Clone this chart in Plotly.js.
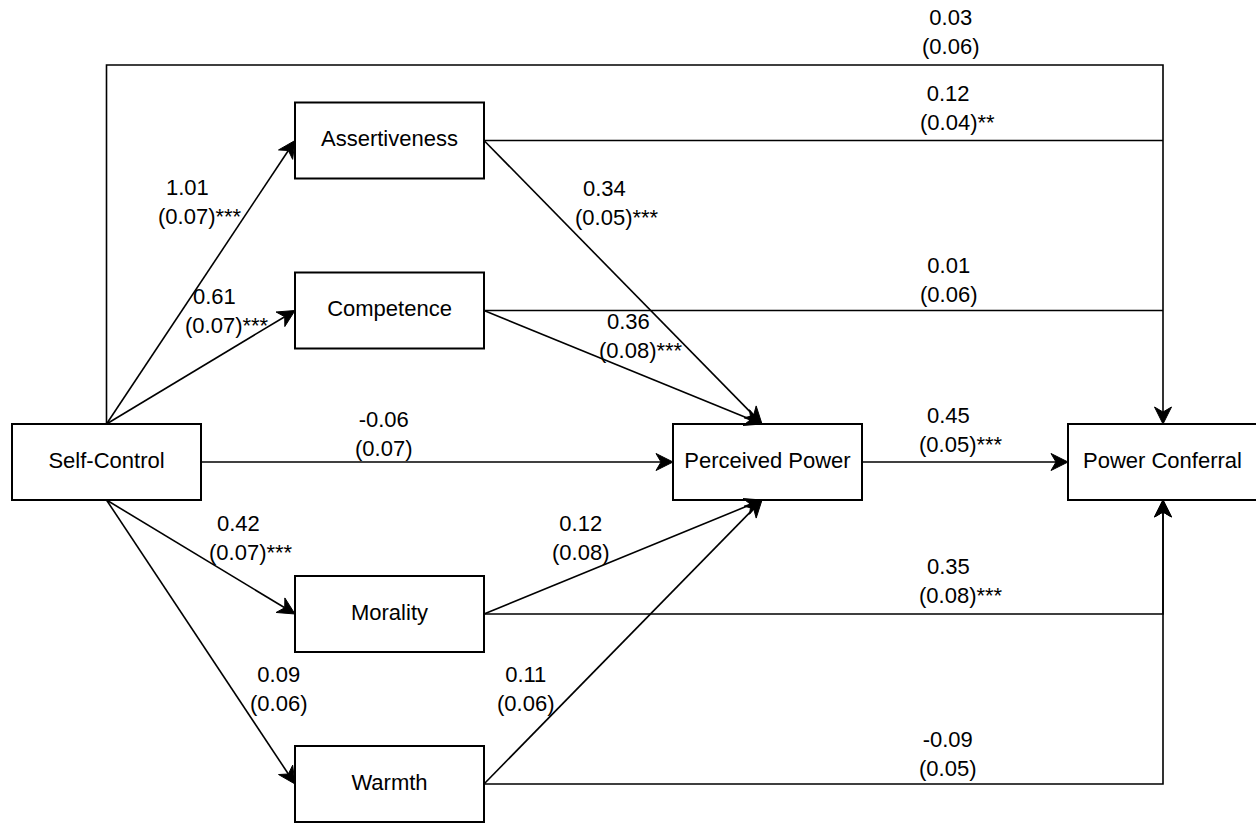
<!DOCTYPE html>
<html>
<head>
<meta charset="utf-8">
<script src="https://cdn.plot.ly/plotly-3.0.1.min.js"></script>
<style>html,body{margin:0;padding:0;background:#fff;}#chart{width:1256px;height:823px;}</style>
</head>
<body>
<div id="chart"></div>
<script>
// ---------- DATA ----------
const nodeNames = ['Self-Control','Assertiveness','Competence','Morality','Warmth','Perceived Power','Power Conferral'];
const pathFrom = ['Self-Control','Self-Control','Self-Control','Self-Control','Self-Control','Self-Control',
  'Assertiveness','Competence','Morality','Warmth','Assertiveness','Competence','Morality','Warmth','Perceived Power'];
const pathTo = ['Assertiveness','Competence','Morality','Warmth','Perceived Power','Power Conferral',
  'Perceived Power','Perceived Power','Perceived Power','Perceived Power','Power Conferral','Power Conferral','Power Conferral','Power Conferral','Power Conferral'];
const estimate = [1.01,0.61,0.42,0.09,-0.06,0.03,0.34,0.36,0.12,0.11,0.12,0.01,0.35,-0.09,0.45];
const stdError = [0.07,0.07,0.07,0.06,0.07,0.06,0.05,0.08,0.08,0.06,0.04,0.06,0.08,0.05,0.05];
const significance = ['***','***','***','','','','***','***','','','**','','***','','***'];

// ---------- LAYOUT (positions / sizes / styles) ----------
const W = 1256, H = 823;
const BOX_W = 189, BOX_H = 76;
const nodePos = {
  'Self-Control':[106.5,462], 'Assertiveness':[389.5,140.5], 'Competence':[389.5,310.5],
  'Morality':[389.5,614], 'Warmth':[389.5,784], 'Perceived Power':[767.5,462], 'Power Conferral':[1162.5,462]
};
const busX = 1163, topY = 65, ppTipX = 762;
const FONT = 'Liberation Sans, Arial, Helvetica, sans-serif';
const INK = '#000000';
const EDGE_W = 1.6, BOX_LW = 2;
const AH_L = 17, AH_W = 8.5, AH_N = 12;

const anchorTop = n => [nodePos[n][0], nodePos[n][1]-BOX_H/2];
const anchorBottom = n => [nodePos[n][0], nodePos[n][1]+BOX_H/2];
const anchorLeft = n => [nodePos[n][0]-BOX_W/2, nodePos[n][1]];
const anchorRight = n => [nodePos[n][0]+BOX_W/2, nodePos[n][1]];

const routeType = ['direct','direct','direct','direct','direct','busTop','toPP','toPP','toPP','toPP','busJoin','busJoin','busUp','busUp','direct'];
// label block centres (centre of the full standard-error line)
const labelPos = [[200,202],[227,311],[251,538],[278,689],[383,434],[950,32],[617,203],[641,336],[580,538],[525,689],[957,108],[948,280],[961,581],[947,754],[961,430]];

function route(i){
  const f = pathFrom[i], t = pathTo[i], type = routeType[i];
  const fp = nodePos[f], tp = nodePos[t];
  if (type === 'direct') {
    if (Math.abs(fp[1]-tp[1]) < 1) return {pts:[anchorRight(f), anchorLeft(t)], arrow:true};
    const s = tp[1] < fp[1] ? anchorTop(f) : anchorBottom(f);
    return {pts:[s, anchorLeft(t)], arrow:true};
  }
  if (type === 'toPP') {
    const e = fp[1] < tp[1] ? [ppTipX, anchorTop(t)[1]] : [ppTipX, anchorBottom(t)[1]];
    return {pts:[anchorRight(f), e], arrow:true};
  }
  if (type === 'busTop') {
    const s = anchorTop(f);
    return {pts:[s, [s[0], topY], [busX, topY], [busX, anchorTop(t)[1]]], arrow:true};
  }
  if (type === 'busJoin') {
    const s = anchorRight(f);
    return {pts:[s, [busX, s[1]]], arrow:false};
  }
  const s = anchorRight(f);
  return {pts:[s, [busX, s[1]], [busX, anchorBottom(t)[1]]], arrow:true};
}

const traces = [];
for (let i = 0; i < pathFrom.length; i++) {
  const r = route(i);
  const pts = r.pts.map(p => p.slice());
  let head = null;
  if (r.arrow) {
    const tip = pts[pts.length-1], prev = pts[pts.length-2];
    const dx = tip[0]-prev[0], dy = tip[1]-prev[1], len = Math.hypot(dx,dy);
    const ux = dx/len, uy = dy/len, nx = -uy, ny = ux;
    const notch = [tip[0]-AH_N*ux, tip[1]-AH_N*uy];
    head = [tip,
      [tip[0]-AH_L*ux+AH_W*nx, tip[1]-AH_L*uy+AH_W*ny],
      notch,
      [tip[0]-AH_L*ux-AH_W*nx, tip[1]-AH_L*uy-AH_W*ny],
      tip];
    pts[pts.length-1] = notch;
  }
  traces.push({type:'scatter', mode:'lines', x:pts.map(p=>p[0]), y:pts.map(p=>p[1]),
    line:{color:INK, width:EDGE_W}, hoverinfo:'skip', showlegend:false});
  if (head) traces.push({type:'scatter', mode:'lines', x:head.map(p=>p[0]), y:head.map(p=>p[1]),
    fill:'toself', fillcolor:INK, line:{color:INK, width:1}, hoverinfo:'skip', showlegend:false});
}
traces.push({type:'scatter', mode:'text', x:nodeNames.map(n=>nodePos[n][0]), y:nodeNames.map(n=>nodePos[n][1]),
  text:nodeNames, textposition:'middle center', textfont:{family:FONT, size:22, color:INK},
  hoverinfo:'skip', showlegend:false, cliponaxis:false});

const shapes = nodeNames.map(n => ({type:'rect', xref:'x', yref:'y',
  x0:nodePos[n][0]-BOX_W/2, x1:nodePos[n][0]+BOX_W/2, y0:nodePos[n][1]-BOX_H/2, y1:nodePos[n][1]+BOX_H/2,
  line:{color:INK, width:BOX_LW}, fillcolor:'rgba(255,255,255,0)', layer:'above'}));

// Stars hang to the right: the estimate line is padded with no-break spaces of
// about the same width as the stars, so it stays centred over "(se)".
const annotations = estimate.map((v,i) => ({
  xref:'x', yref:'y', x:labelPos[i][0], y:labelPos[i][1], xanchor:'center', yanchor:'middle',
  text: v.toFixed(2) + '\u00a0'.repeat(Math.round(significance[i].length * 0.389 / 0.278)) +
        '<br>(' + stdError[i].toFixed(2) + ')' + significance[i],
  showarrow:false, align:'center', font:{family:FONT, size:22, color:INK}
}));

const layout = {
  width:W, height:H, margin:{l:0,r:0,t:0,b:0,pad:0},
  paper_bgcolor:'#ffffff', plot_bgcolor:'#ffffff',
  xaxis:{range:[0,W], visible:false, fixedrange:true},
  yaxis:{range:[H,0], visible:false, fixedrange:true},
  shapes, annotations, showlegend:false, hovermode:false
};
Plotly.newPlot('chart', traces, layout, {displayModeBar:false, staticPlot:true});
</script>
</body>
</html>
